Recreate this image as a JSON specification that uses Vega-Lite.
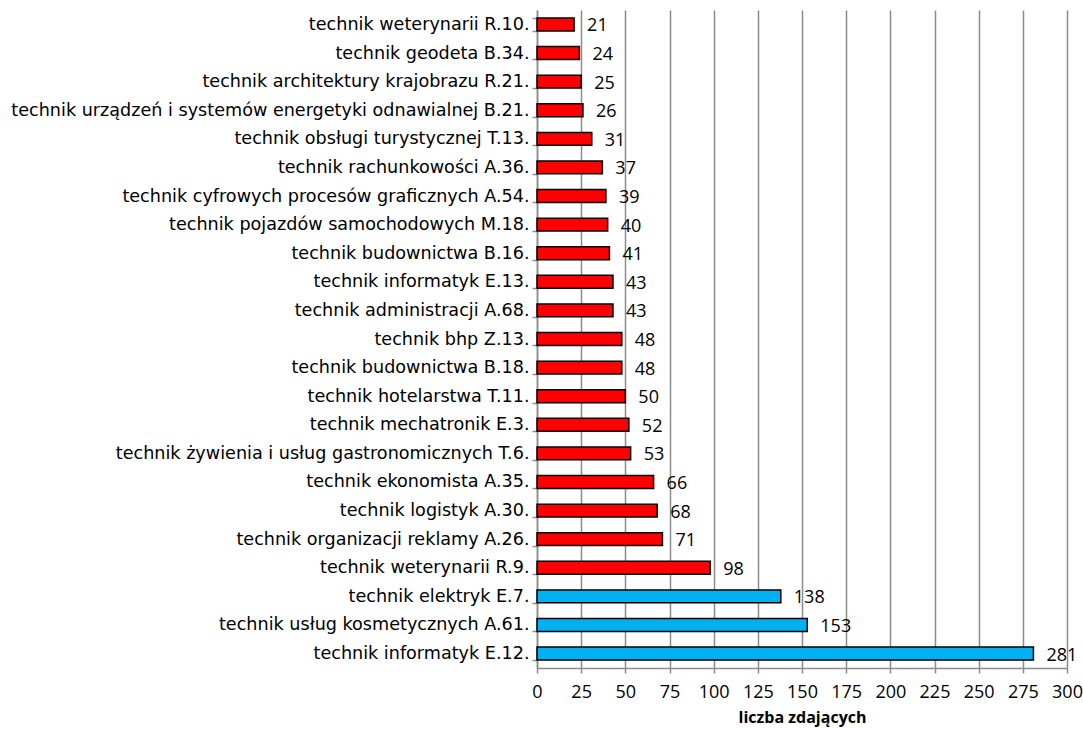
{
  "$schema": "https://vega.github.io/schema/vega-lite/v6.json",
  "width": 530,
  "height": 658,
  "autosize": {"type": "none"},
  "padding": {"left": 537, "top": 10, "right": 16, "bottom": 61},
  "background": "white",
  "data": {"values": [
    {"zawod": "technik weterynarii R.10.", "liczba": 21, "grupa": "pozostale"},
    {"zawod": "technik geodeta B.34.", "liczba": 24, "grupa": "pozostale"},
    {"zawod": "technik architektury krajobrazu R.21.", "liczba": 25, "grupa": "pozostale"},
    {"zawod": "technik urządzeń i systemów energetyki odnawialnej B.21.", "liczba": 26, "grupa": "pozostale"},
    {"zawod": "technik obsługi turystycznej T.13.", "liczba": 31, "grupa": "pozostale"},
    {"zawod": "technik rachunkowości A.36.", "liczba": 37, "grupa": "pozostale"},
    {"zawod": "technik cyfrowych procesów graficznych A.54.", "liczba": 39, "grupa": "pozostale"},
    {"zawod": "technik pojazdów samochodowych M.18.", "liczba": 40, "grupa": "pozostale"},
    {"zawod": "technik budownictwa B.16.", "liczba": 41, "grupa": "pozostale"},
    {"zawod": "technik informatyk E.13.", "liczba": 43, "grupa": "pozostale"},
    {"zawod": "technik administracji A.68.", "liczba": 43, "grupa": "pozostale"},
    {"zawod": "technik bhp Z.13.", "liczba": 48, "grupa": "pozostale"},
    {"zawod": "technik budownictwa B.18.", "liczba": 48, "grupa": "pozostale"},
    {"zawod": "technik hotelarstwa T.11.", "liczba": 50, "grupa": "pozostale"},
    {"zawod": "technik mechatronik E.3.", "liczba": 52, "grupa": "pozostale"},
    {"zawod": "technik żywienia i usług gastronomicznych T.6.", "liczba": 53, "grupa": "pozostale"},
    {"zawod": "technik ekonomista A.35.", "liczba": 66, "grupa": "pozostale"},
    {"zawod": "technik logistyk A.30.", "liczba": 68, "grupa": "pozostale"},
    {"zawod": "technik organizacji reklamy A.26.", "liczba": 71, "grupa": "pozostale"},
    {"zawod": "technik weterynarii R.9.", "liczba": 98, "grupa": "pozostale"},
    {"zawod": "technik elektryk E.7.", "liczba": 138, "grupa": "top"},
    {"zawod": "technik usług kosmetycznych A.61.", "liczba": 153, "grupa": "top"},
    {"zawod": "technik informatyk E.12.", "liczba": 281, "grupa": "top"}
  ]},
  "config": {
    "view": {"stroke": null},
    "font": "Open Sans"
  },
  "encoding": {
    "y": {
      "field": "zawod", "type": "nominal", "sort": null,
      "scale": {"paddingInner": 0.55, "paddingOuter": 0.28},
      "axis": {
        "title": null, "grid": false, "tickBand": "extent",
        "domainColor": "#8c8c8c", "domainWidth": 1.5,
        "tickColor": "#8c8c8c", "tickWidth": 1.5, "tickSize": 5,
        "labelFont": "DejaVu Sans", "labelFontSize": 17.6, "labelColor": "#000000",
        "labelPadding": 3, "labelLimit": 600
      }
    },
    "x": {
      "field": "liczba", "type": "quantitative",
      "scale": {"domain": [0, 300], "nice": false},
      "axis": {
        "title": "liczba zdających", "titleFont": "Open Sans", "titleFontSize": 16,
        "titleFontWeight": "bold", "titleColor": "#000000", "titlePadding": 8,
        "values": [0, 25, 50, 75, 100, 125, 150, 175, 200, 225, 250, 275, 300],
        "grid": true, "gridColor": "#8c8c8c", "gridWidth": 1.5,
        "domainColor": "#8c8c8c", "domainWidth": 1.5,
        "tickColor": "#8c8c8c", "tickWidth": 1.5, "tickSize": 5,
        "labelFont": "Open Sans", "labelFontSize": 18, "labelColor": "#000000",
        "labelPadding": 10, "labelFlush": false
      }
    }
  },
  "layer": [
    {
      "mark": {"type": "bar", "stroke": "#000000", "strokeWidth": 1.5},
      "encoding": {
        "color": {
          "field": "grupa", "type": "nominal", "legend": null,
          "scale": {"domain": ["pozostale", "top"], "range": ["#ff0000", "#00b0f0"]}
        }
      }
    },
    {
      "mark": {"type": "text", "align": "left", "baseline": "middle", "dx": 13, "dy": 2, "fontSize": 18, "font": "Open Sans", "color": "#000000"},
      "encoding": {"text": {"field": "liczba", "type": "quantitative"}}
    }
  ]
}
